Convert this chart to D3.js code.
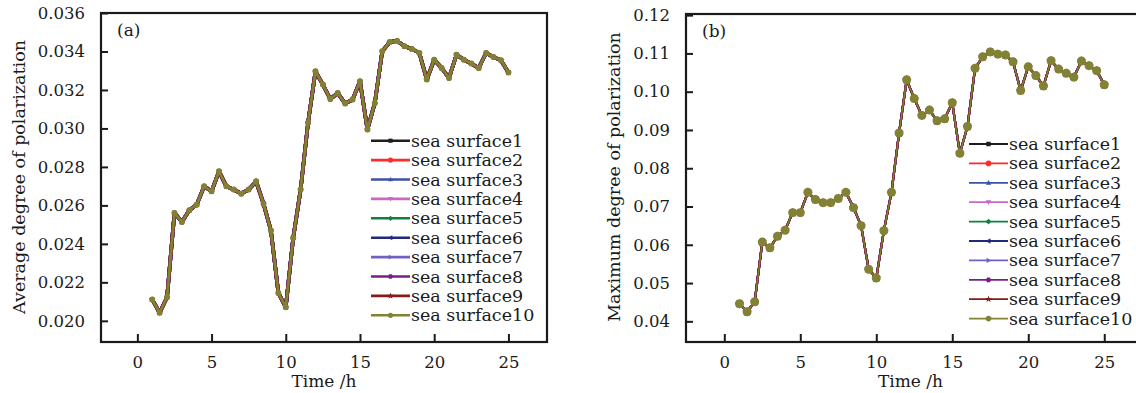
<!DOCTYPE html>
<html><head><meta charset="utf-8">
<script src="https://cdn.jsdelivr.net/npm/d3@7"></script>
<style>
html,body{margin:0;padding:0;background:#fff;}
svg text{font-family:"DejaVu Serif",serif;fill:#1a1a1a;}
</style></head>
<body>
<svg id="chart" width="1136" height="393"></svg>
<script>
// ---------------- data ----------------
const timeH = [1,1.5,2,2.5,3,3.5,4,4.5,5,5.5,6,6.5,7,7.5,8,8.5,9,9.5,10,10.5,11,11.5,12,12.5,13,13.5,14,14.5,15,15.5,16,16.5,17,17.5,18,18.5,19,19.5,20,20.5,21,21.5,22,22.5,23,23.5,24,24.5,25];
const averageDOP = [0.02111,0.02042,0.02123,0.02561,0.02514,0.02575,0.02604,0.02699,0.02673,
  0.02777,0.02699,0.02682,0.02661,0.02682,0.02725,0.02609,0.02469,0.02145,0.02071,
  0.02431,0.02682,0.03029,0.03297,0.03228,0.03153,0.03184,0.03129,0.03150,0.03245,
  0.02994,0.03132,0.03401,0.03449,0.03455,0.03427,0.03413,0.03392,0.03254,0.03357,
  0.03314,0.03262,0.03383,0.03357,0.03337,0.03314,0.03392,0.03371,0.03354,0.03291];
const maximumDOP = [0.0446,0.0425,0.0451,0.0607,0.0592,0.0622,0.0638,0.0684,0.0684,
  0.0737,0.0718,0.0710,0.0710,0.0721,0.0737,0.0697,0.0650,0.0536,0.0513,
  0.0637,0.0737,0.0892,0.1031,0.0982,0.0938,0.0952,0.0924,0.0929,0.0971,
  0.0839,0.0909,0.1061,0.1091,0.1104,0.1098,0.1096,0.1078,0.1003,0.1065,
  0.1042,0.1015,0.1081,0.1059,0.1048,0.1038,0.1080,0.1068,0.1055,0.1018];
const seriesNames = ["sea surface1","sea surface2","sea surface3","sea surface4","sea surface5",
  "sea surface6","sea surface7","sea surface8","sea surface9","sea surface10"];
// the ten sea surfaces coincide on the picture: every series uses the same readings
const avgSeries = seriesNames.map(() => averageDOP);
const maxSeries = seriesNames.map(() => maximumDOP);
const xTicks = [0,5,10,15,20,25];
const avgTicks = [0.020,0.022,0.024,0.026,0.028,0.030,0.032,0.034,0.036];
const maxTicks = [0.04,0.05,0.06,0.07,0.08,0.09,0.10,0.11,0.12];

// ---------------- styles ----------------
const colors = ["#1e1e1e","#ff2b2b","#3c52a4","#c868c0","#0e8040","#22287a","#7262c4","#782082","#841c1c","#828234"];
const shapes = ["square","circle","tri","tridown","diamond","trileft","triright","hex","star","circle"];

function shapePath(kind, s){
  const r = s;
  switch(kind){
    case "square": return `M${-r*0.8},${-r*0.8}h${1.6*r}v${1.6*r}h${-1.6*r}Z`;
    case "circle": return d3.symbol(d3.symbolCircle, Math.PI*r*r)();
    case "tri": return `M0,${-r}L${r*0.95},${r*0.7}L${-r*0.95},${r*0.7}Z`;
    case "tridown": return `M0,${r}L${r*0.95},${-r*0.7}L${-r*0.95},${-r*0.7}Z`;
    case "trileft": return `M${-r},0L${r*0.7},${-r*0.95}L${r*0.7},${r*0.95}Z`;
    case "triright": return `M${r},0L${-r*0.7},${-r*0.95}L${-r*0.7},${r*0.95}Z`;
    case "diamond": return `M0,${-r}L${r},0L0,${r}L${-r},0Z`;
    case "hex": { let p=[]; for(let i=0;i<6;i++){const a=Math.PI/3*i; p.push([r*Math.cos(a), r*Math.sin(a)]);} return "M"+p.map(q=>q.join(",")).join("L")+"Z"; }
    case "star": return d3.symbol(d3.symbolStar, Math.PI*r*r*0.6)();
  }
}

const svg = d3.select("#chart");

function drawPanel(cfg){
  const x = d3.scaleLinear().domain(cfg.xDomain).range([cfg.left, cfg.right]);
  const y = d3.scaleLinear().domain(cfg.yDomain).range([cfg.bottom, cfg.top]);
  const g = svg.append("g");

  const xAxis = d3.axisBottom(x).tickValues(xTicks).tickSize(-8).tickPadding(14).tickFormat(d3.format("d"));
  const gx = g.append("g").attr("transform", `translate(0,${cfg.bottom})`).call(xAxis);
  const yAxis = d3.axisLeft(y).tickValues(cfg.yTicks).tickSize(-7).tickPadding(16).tickFormat(d3.format(cfg.yFormat));
  const gy = g.append("g").attr("transform", `translate(${cfg.left},0)`).call(yAxis);
  [gx, gy].forEach(a => {
    a.select(".domain").remove();
    a.selectAll(".tick line").attr("stroke", "#1a1a1a").attr("stroke-width", 2);
    a.selectAll(".tick text").attr("font-size", 16.5).attr("fill", "#1a1a1a")
      .style("font-family", '"DejaVu Serif",serif');
  });

  g.append("rect").attr("x", cfg.left).attr("y", cfg.top)
    .attr("width", cfg.right - cfg.left).attr("height", cfg.bottom - cfg.top)
    .attr("fill", "none").attr("stroke", "#1a1a1a").attr("stroke-width", 2.2);

  const line = d3.line().x((d,i) => x(timeH[i])).y(d => y(d));
  cfg.series.forEach((vals, k) => {
    g.append("path").datum(vals).attr("d", line).attr("fill", "none")
      .attr("stroke", colors[k]).attr("stroke-width", k === 9 ? cfg.lineW : cfg.lineW + 0.8)
      .attr("stroke-linejoin", "round");
    g.append("g").selectAll("path").data(vals).join("path")
      .attr("transform", (d,i) => `translate(${x(timeH[i])},${y(d)})`)
      .attr("d", shapePath(shapes[k], k === 9 ? cfg.markR : cfg.markR * 0.85))
      .attr("fill", colors[k]);
  });

  g.append("text").attr("x", cfg.left + 16).attr("y", cfg.top + 23)
    .attr("font-size", 17).text(cfg.label);

  g.append("text").attr("x", (cfg.left + cfg.right) / 2 - (cfg.clipRight || 0)).attr("y", 387)
    .attr("text-anchor", "middle").attr("font-size", 17).text("Time /h");
  g.append("text").attr("transform", `translate(${cfg.titleX},${cfg.titleY}) rotate(-90)`)
    .attr("text-anchor", "middle").attr("font-size", 17.5).text(cfg.yTitle);

  const lg = g.append("g");
  seriesNames.forEach((name, k) => {
    const cy = cfg.legY + k * 19.4;
    lg.append("line").attr("x1", cfg.legX).attr("x2", cfg.legX + 39).attr("y1", cy).attr("y2", cy)
      .attr("stroke", colors[k]).attr("stroke-width", cfg.legLineW);
    lg.append("path").attr("transform", `translate(${cfg.legX + 19.5},${cy})`)
      .attr("d", shapePath(shapes[k], cfg.legMarkR)).attr("fill", colors[k]);
    lg.append("text").attr("x", cfg.legX + 40).attr("y", cy + 6)
      .attr("font-size", 17.5).text(name);
  });
}

drawPanel({
  left: 101, right: 547, top: 13, bottom: 342,
  xDomain: [-2.45, 27.6], yDomain: [0.0189, 0.036],
  yTicks: avgTicks, yFormat: ".3f",
  series: avgSeries, lineW: 2.8, markR: 3,
  label: "(a)", yTitle: "Average degree of polarization", titleX: 25, titleY: 177,
  legX: 371, legY: 140.7, legLineW: 2.6, legMarkR: 2.6
});
drawPanel({
  left: 686, right: 1143, top: 14, bottom: 342,
  xDomain: [-2.52, 27.55], yDomain: [0.0346, 0.1203],
  yTicks: maxTicks, yFormat: ".2f",
  series: maxSeries, lineW: 1.4, markR: 4.5,
  label: "(b)", yTitle: "Maximum degree of polarization", titleX: 620, titleY: 177, clipRight: 4,
  legX: 969, legY: 144, legLineW: 1.8, legMarkR: 2.8
});
</script>
</body></html>
